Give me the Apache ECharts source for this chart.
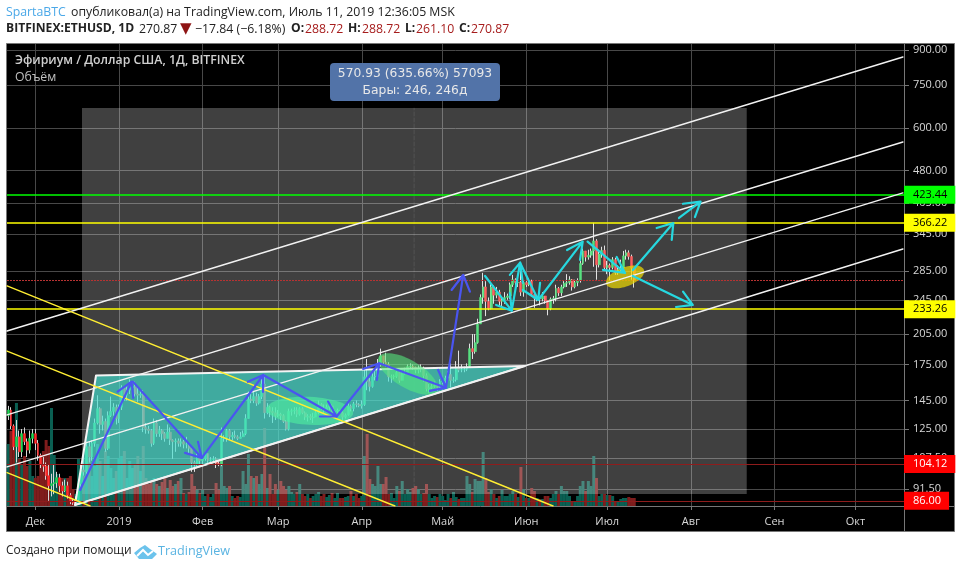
<!DOCTYPE html>
<html><head><meta charset="utf-8">
<style>html,body{margin:0;padding:0;background:#fff}#c{width:961px;height:570px}</style>
<script src="https://cdn.jsdelivr.net/npm/echarts@6/dist/echarts.min.js"></script>
</head><body><div id="c"></div>
<script>
// ---- candles per month: [close, high, low]; open is the previous close
const firstOpen = 134;
const nov18 = [[138,141,131],[127,140,125],[114,128,112],[120,131,105],[111,124,108],[122,125,108],[117,126,115],[112,119,108],[119,124,110],[122,125,116]];
const dec18 = [[116,125,112],[109,118,106],[104,110,102],[103,108,100],[98,105,96],[93,104,86],[94,99,88],[94.5,104,89],[97,100,92],[93,99,90],[90.5,95,88],[93,96,90],[88.5,95,87],[85.5,89.5,84.5],[85,87,84.2],[86.5,88,84.5],[94,96,86],[101,104,92],[100,110,98],[114,117,99],[108,117,105],[116,118,106],[129,132,114],[139,149,128],[128,140,122],[130,134,124],[113,132,111],[134,137,112],[137,148,133],[140,143,134],[132,142,128]];
const jan19 = [[140,142,129],[155,157,138],[149,156,145],[153,156,145],[155,162,150],[156,160,150],[150,160,148],[149,156,144],[150,154,147],[126,153,123],[125,129,122],[124,127,122],[116,125,114],[129,132,115],[122,131,120],[124,127,120],[122,125,118],[119,123,117],[123,128,119],[118,126,115],[117,118.5,107],[117.5,119,111],[116,119,114],[117,119,114],[115.5,118,113],[115.5,120,113],[113,116,110],[105,113,100],[104,106,100],[107.5,110,103],[106,109,104]];
const feb19 = [[107,109,103],[110,111,106],[106,110,104],[106.5,108,105],[107,108.5,105],[104.5,108,102],[104,105.5,103],[119,126,103],[119.5,121,117],[124,125,117],[120,125,118],[121,123,118],[120,124,119],[119,121,118],[120,123,119],[122,124,120],[132,135,121],[146,152,132],[145,152,143],[148,152,143],[143,151,141],[148,150,142],[158,164,146],[136,166,132],[140,143,135],[137,141,133],[136,140,129],[134,140,131]];
const mar19 = [[135,138,133],[134,136,131],[130,135,129],[125,131,124],[137,139,124],[137.5,139,134],[138,140,135],[135,140,133],[139,140,134],[136,140,135],[133,137,131],[133.5,135,130],[132.5,135,131],[133,136,129],[136,138,133],[142,145,135],[139,143,138],[138,142,136],[140,142,137],[141,143,138],[136,142,134],[137,138,135],[138,139,136],[136,138,135],[133,137,131],[134.5,135.5,132],[141,143,134],[139,142,137],[142.5,144,137],[142,145,140],[141,143,140]];
const apr19 = [[142,145,139],[164,172,141],[160,180,153],[156,163,152],[164,168,155],[164.5,171,161],[175,180,163],[183,190,173],[177,183,174],[175,186,173],[164,177,160],[164.2,166,159],[164.5,166,162],[168,169,163],[161,170,159],[167,168,161],[168,172,166],[173,175,168],[173.5,176,171],[172.5,175,170],[170,173,167],[171,174,167],[171.5,175,168],[165,173,160],[154,167,152],[155,158,151],[156,158,154],[157,160,155],[155,158,152],[160,162,153]];
const may19 = [[160.5,163,158],[163,165,159],[166,169,161],[161,176,155],[161.5,164,159],[172,178,160],[170,188,168],[170.3,175,168],[170.5,173,168],[173,176,169],[190,195,172],[187,205,180],[196,205,185],[216,222,195],[248,252,216],[262,282,240],[243,270,225],[234,248,232],[262,268,233],[251,264,240],[255,262,247],[243,258,237],[245,248,235],[248,255,240],[250,253,245],[265,268,246],[272,279,262],[268,274,261],[268.5,272,262],[255,285,250],[268,270,249]];
const jun19 = [[265,270,262],[270,274,263],[252,272,249],[247,254,235],[247.5,250,243],[246,248,238],[250,255,243],[244,250,240],[234,244,226],[246,248,232],[247,250,240],[260,265,243],[254,262,250],[262,265,250],[267,270,260],[268,280,262],[272,277,265],[262,273,257],[268,272,260],[271,274,263],[296,300,268],[316,320,294],[306,316,299],[309,318,302],[316,320,305],[333,366,291],[294,336,272],[311,318,290],[317,323,305],[290,325,285]];
const jul19 = [[293,300,280],[290,296,271],[302,306,287],[282,305,279],[287,293,279],[289,302,283],[308,316,288],[313,318,302],[307,317,302],[288.72,310,272],[270.87,288.72,261.10]];
// ---- volume per month, thousands
const volNov18 = [62,75,60,103,47,42,50,40,45,30];
const volDec18 = [28,30,47,55,66,60,98,51,32,28,28,28,28,30,17,12,47,23,30,57,48,30,40,62,45,30,55,50,38,28,35];
const volJan19 = [48,50,55,28,45,38,42,50,35,60,28,22,25,28,22,20,24,28,18,26,20,22,25,28,13,12,14,32,20,16,13];
const volFeb19 = [16,10,12,9,12,23,16,48,20,18,20,10,8,10,9,35,22,52,30,28,30,22,32,78,18,32,12,22];
const volMar19 = [16,25,20,16,20,14,12,14,22,12,10,12,8,10,12,14,10,12,9,11,13,8,13,8,8,9,10,15,10,12,8];
const volApr19 = [10,50,72,27,22,20,40,22,22,29,12,13,8,20,15,25,12,17,14,18,20,17,12,13,22,12,8,10,9,12];
const volMay19 = [10,6,12,8,14,9,7,8,8,30,22,14,27,25,25,54,28,14,17,12,8,10,16,10,10,12,15,12,9,39,17];
const volJun19 = [8,8,18,15,8,7,7,10,10,8,12,15,12,20,15,15,10,5,5,10,20,25,15,25,20,50,28,10,12,12];
const volJul19 = [11,11,10,5,4,7,8,8,9,8,8];
// ---- axis
const yTickValues = [900,750,600,480,405,345,285,245,205,175,145,125,107.5,91.5];
const monthLabels = ['Дек','2019','Фев','Мар','Апр','Май','Июн','Июл','Авг','Сен','Окт'];
const monthStarts = [[2018,11],[2019,0],[2019,1],[2019,2],[2019,3],[2019,4],[2019,5],[2019,6],[2019,7],[2019,8],[2019,9]];
// ---- price levels
const levels = [
  {v:423.44,c:'#00ff00',t:'#000000',w:1.6,label:true},
  {v:366.22,c:'#ffff00',t:'#000000',w:1.6,label:true},
  {v:233.26,c:'#ffff00',t:'#000000',w:1.6,label:true},
  {v:104.12,c:'#8f1c1c',bg:'#ff0000',t:'#ffffff',w:1,label:true},
  {v:86.00,c:'#8f1c1c',bg:'#ff0000',t:'#ffffff',w:1,label:true},
  {v:270.87,c:'#b83232',w:1,dotted:true,label:false}
];
// ---- drawings: [days after 1 Dec 2018, price]
const channelLines = [
  [[-10.49,208.3],[321.6,867.8]],
  [[-10.49,134.5],[321.6,557.3]],
  [[-10.49,102.6],[321.6,427.5]],
  [[14.7,84.15],[321.6,319.2]]
];
const fallingLines = [
  [[-10.49,263.3],[191.9,83.7]],
  [[-10.49,187.6],[133.3,83.7]],
  [[-10.49,99.6],[20.3,83.7]]
];
const triangle = [[14.7,84.15],[22.5,165.2],[181.5,173.6]];
const rangeBox = {from:17.3,to:263.7,low:89.1,high:665};
const rangeMid = [[140.4,89.1],[140.4,665]];
const blueArrows = [
  [[16.6,91],[35.7,160],[30.5,151.9],[35.7,160],[36.3,147]],
  [[36.2,159.8],[61.7,107.5],[55.5,110.4],[61.7,107.5],[60.3,116.9]],
  [[61.7,107.5],[84.5,165.6],[78.8,159.8],[84.5,165.6],[84.4,151.6]],
  [[84.5,165.6],[111.7,133.4],[105.5,133.4],[111.7,133.4],[108.5,144.2]],
  [[111.7,133.4],[127.5,176],[121.5,170.9],[127.5,176],[126.6,161.4]],
  [[127.5,176],[152.2,155],[146.3,152.4],[152.2,155],[149.3,170]],
  [[152.2,155],[158.6,278.8],[154.3,257.9],[158.6,278.8],[161.1,255.6]]
];
const cyanArrows = [
  [[166.7,277.4],[176.6,231.6],[170.8,238.5],[176.6,231.6],[175.9,253.9]],
  [[176.6,231.6],[179.7,297.3],[175.9,279],[179.7,297.3],[180.7,267.5]],
  [[179.7,297.3],[186.4,244.8],[180.7,257.9],[186.4,244.8],[187.1,267.5]],
  [[186.4,244.8],[202.9,331.7],[197.1,317.6],[202.9,331.7],[201.9,301.5]],
  [[204.7,331.7],[218.6,281.8],[210.4,286.2],[218.6,281.8],[215.5,306.2]],
  [[221.5,286.2],[236.5,365.5],[230.3,356.1],[236.5,365.5],[235.9,334.6]],
  [[238.6,375.2],[246.6,408.5],[240.1,404],[246.6,408.5],[244.5,377.1]],
  [[221.5,277.4],[243.7,238.5],[237.5,236],[243.7,238.5],[240.1,255.6]]
];
// ellipses: centre, end of the long axis, end of the short axis
const ellipses = [
  {c:[101.8,137.4],a:[117.8,136],b:[101.8,147.8],fill:'rgba(80,240,160,0.6)'},
  {c:[138.1,166.5],a:[148.9,152.4],b:[135.6,156.4],fill:'rgba(85,235,125,0.58)'},
  {c:[218.6,276],a:[225.6,286.2],b:[219.7,263.3],fill:'rgba(240,220,0,0.7)'}
];

const DAY = 86400000, BASE = Date.UTC(2018,11,1);
const t = d => BASE + d*DAY;
const pt = p => [t(p[0]), p[1]];
const months = [
  [Date.UTC(2018,10,21),nov18,volNov18],[Date.UTC(2018,11,1),dec18,volDec18],[Date.UTC(2019,0,1),jan19,volJan19],
  [Date.UTC(2019,1,1),feb19,volFeb19],[Date.UTC(2019,2,1),mar19,volMar19],[Date.UTC(2019,3,1),apr19,volApr19],
  [Date.UTC(2019,4,1),may19,volMay19],[Date.UTC(2019,5,1),jun19,volJun19],[Date.UTC(2019,6,1),jul19,volJul19]
];
const UP='#1fd655', DOWN='#ff2a2a', VUP='#0a5f52', VDOWN='#7f1d1d', WICK='#d8d8d8';
const full=[], bodiesUp=[], bodiesDown=[], vols=[];
let prev = firstOpen;
months.forEach(([start,rows,vol])=>{
  rows.forEach((r,i)=>{
    const x=start+i*DAY, o=prev, c=r[0];
    full.push([x,o,c,r[2],r[1]]);
    (c>=o?bodiesUp:bodiesDown).push([x,o,c,Math.min(o,c),Math.max(o,c)]);
    vols.push({value:[x,vol[i]],itemStyle:{color:c>=o?VUP:VDOWN}});
    prev=c;
  });
});
const monthVals = monthStarts.map(m=>Date.UTC(m[0],m[1],1));
const HEAD='"Open Sans",sans-serif', FONT=HEAD;

const base = {xAxisIndex:0,yAxisIndex:0,animation:false,silent:true};
const lineS = (pts,color,width,z,extra)=>Object.assign({},base,{type:'line',z,data:pts.map(pt),showSymbol:false,symbol:'none',clip:true,
   lineStyle:Object.assign({color,width,cap:'round',join:'round'},extra||{})});
const candle = (data,opt)=>Object.assign({},base,{type:'candlestick',encode:{x:0,y:[1,2,3,4]},data,clip:true},opt);
const customS = (z,render)=>Object.assign({},base,{type:'custom',z,clip:true,data:[[BASE,100]],encode:{x:0,y:1},renderItem:render});

const series = [
  Object.assign({},base,{type:'bar',yAxisIndex:1,z:1,data:vols,barWidth:3,clip:true}),
  candle(full,{z:2,barWidth:1,itemStyle:{color:WICK,color0:WICK,borderColor:WICK,borderColor0:WICK,borderColorDoji:WICK,borderWidth:1}}),
  candle(bodiesUp,{z:2,barWidth:2.4,itemStyle:{color:UP,color0:UP,borderColor:UP,borderColor0:UP,borderColorDoji:UP,borderWidth:0.5}}),
  candle(bodiesDown,{z:2,barWidth:2.4,itemStyle:{color:DOWN,color0:DOWN,borderColor:DOWN,borderColor0:DOWN,borderColorDoji:DOWN,borderWidth:0.5}}),
  customS(3,(p,api)=>{
    const a=api.coord([t(rangeBox.from),rangeBox.high]), b=api.coord([t(rangeBox.to),rangeBox.low]);
    return {type:'rect',shape:{x:a[0],y:a[1],width:b[0]-a[0],height:b[1]-a[1]},style:{fill:'rgba(255,255,255,0.25)'}};
  }),
  lineS(rangeMid,'rgba(255,255,255,0.1)',1,3,{type:'dashed'}),
  customS(4,(p,api)=>({type:'polygon',shape:{points:triangle.map(q=>api.coord(pt(q)))},
     style:{fill:'rgba(64,224,208,0.66)',stroke:'#f4f4f4',lineWidth:2,lineJoin:'round'}})),
  customS(5,(p,api)=>({type:'group',children:ellipses.map(e=>{
     const c=api.coord(pt(e.c)),a=api.coord(pt(e.a)),b=api.coord(pt(e.b));
     const pts=[];
     for(let i=0;i<64;i++){const th=i/64*2*Math.PI,cs=Math.cos(th),sn=Math.sin(th);
       pts.push([c[0]+(a[0]-c[0])*cs+(b[0]-c[0])*sn,c[1]+(a[1]-c[1])*cs+(b[1]-c[1])*sn]);}
     return {type:'polygon',shape:{points:pts},style:{fill:e.fill}};
  })}))
];
channelLines.forEach(l=>series.push(lineS(l,'#f2f2f2',1.4,6)));
fallingLines.forEach(l=>series.push(lineS(l,'#ffee33',1.4,6)));
blueArrows.forEach(l=>series.push(lineS(l,'#4a55f0',2.2,7)));
cyanArrows.forEach(l=>series.push(lineS(l,'#26d8e0',2.2,7)));
series.push(Object.assign({},base,{type:'line',z:20,data:[],markLine:{silent:true,symbol:'none',animation:false,precision:2,
  data:levels.map(l=>({yAxis:l.v,lineStyle:{color:l.c,width:l.w,type:l.dotted?[2,1]:'solid'},
    label:{show:l.label,position:'end',distance:0,formatter:l.v.toFixed(2),fontFamily:FONT,fontSize:11,color:l.t||'#fff',
           backgroundColor:l.bg||l.c,padding:[3,8,2,9],lineHeight:13}}))}}));

const H12='12.3px '+HEAD;
const T=(x,y,text,o)=>({type:'text',z:100,x,y,silent:true,style:Object.assign({text,fill:'#222',font:H12,verticalAlign:'middle'},o||{})});
const B='bold 12.1px '+HEAD, RED='#a61c1c', BUB='12.3px "DejaVu Sans",sans-serif';
const graphic=[
  {type:'rect',z:-2,silent:true,shape:{x:6.5,y:43.5,width:948,height:488},style:{fill:'#000',stroke:'#777',lineWidth:1}},
  {type:'line',z:1,silent:true,shape:{x1:6,y1:506.5,x2:955,y2:506.5},style:{stroke:'#777',lineWidth:1}},
  {type:'line',z:1,silent:true,shape:{x1:904.5,y1:43,x2:904.5,y2:532},style:{stroke:'#777',lineWidth:1}},
  T(6,12.5,'SpartaBTC',{fill:'#4aa8e8'}),
  T(71,12.5,'опубликовал(а) на TradingView.com, Июль 11, 2019 12:36:05 MSK'),
  T(6,29,'BITFINEX:ETHUSD, 1D',{font:B}),
  T(139,29,'270.87'),
  T(180,29,'▼',{fill:'#8e1414',font:'15px "DejaVu Sans"'}),
  T(195,29,'−17.84 (−6.18%)'),
  T(291,29,'O:',{font:B}),T(305,29,'288.72',{fill:RED}),
  T(348,29,'H:',{font:B}),T(362,29,'288.72',{fill:RED}),
  T(405,29,'L:',{font:B}),T(416,29,'261.10',{fill:RED}),
  T(459,29,'C:',{font:B}),T(471,29,'270.87',{fill:RED}),
  T(15,60.5,'Эфириум / Доллар США, 1Д, BITFINEX',{fill:'#d0d0d0',font:'600 12.3px '+HEAD}),
  T(15,77.5,'Объём',{fill:'#c0c0c0'}),
  {type:'rect',z:90,silent:true,shape:{x:330,y:63,width:170,height:38,r:4},style:{fill:'#5273a8'}},
  T(415,74,'570.93 (635.66%) 57093',{fill:'#e8e8e8',align:'center',font:BUB}),
  T(415,91,'Бары: 246, 246д',{fill:'#e8e8e8',align:'center',font:BUB}),
  T(6,551,'Создано при помощи',{font:'11.9px '+HEAD}),
  {type:'polygon',z:100,silent:true,shape:{points:[[134,553],[140,548],[145,545],[150,549],[153,551],[157,554],[152,559],[139,559]]},style:{fill:'#6cc3ec'}},
  {type:'polyline',z:101,silent:true,shape:{points:[[137,556],[143,550],[148,555],[153,551]]},style:{stroke:'#fff',lineWidth:2,fill:null}},
  T(158,551,'TradingView',{fill:'#5ab4e2',font:'12.6px '+HEAD})
];

const chart=echarts.init(document.getElementById('c'),null,{renderer:'canvas'});
chart.setOption({
  animation:false,backgroundColor:'#fff',
  grid:{left:7,right:57,top:44,bottom:64},
  xAxis:{type:'value',min:t(-10.5),max:t(322),
    axisLine:{show:false},
    axisTick:{show:true,customValues:monthVals,length:4,lineStyle:{color:'#777'}},
    axisLabel:{customValues:monthVals,color:'#d8d8d8',fontFamily:FONT,fontSize:11,margin:10,hideOverlap:false,
      formatter:v=>monthLabels[monthVals.indexOf(v)]},
    splitLine:{show:true,lineStyle:{color:'#484848',width:1}}},
  yAxis:[
    {type:'log',logBase:10,position:'right',min:83.7,max:928.6,
     axisLine:{show:false},
     axisTick:{show:true,customValues:yTickValues,length:5,lineStyle:{color:'#777'}},
     axisLabel:{customValues:yTickValues,color:'#d8d8d8',fontFamily:FONT,fontSize:11,margin:9,hideOverlap:false,padding:[2,0,0,0],
       showMinLabel:true,showMaxLabel:true,formatter:v=>v.toFixed(2)},
     splitLine:{show:true,lineStyle:{color:'#484848',width:1}},minorSplitLine:{show:false},minorTick:{show:false}},
    {type:'value',min:0,max:462,show:false,splitLine:{show:false}}
  ],
  tooltip:{show:false},
  graphic:{elements:graphic},
  series
});
</script></body></html>
